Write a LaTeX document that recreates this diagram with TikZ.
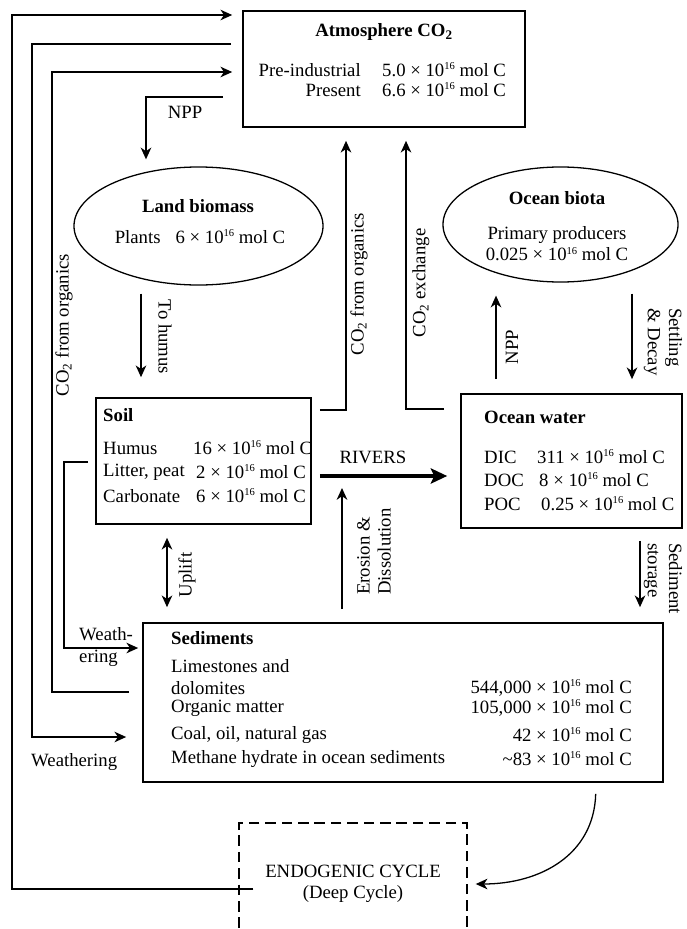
\documentclass[tikz,border=0pt]{standalone}
\usepackage{fontspec}
\setmainfont{Liberation Serif}
\usetikzlibrary{arrows.meta, shapes.geometric, calc, positioning}
\newcommand{\molc}[1]{#1 × 10\raisebox{0.8ex}{\fontsize{9}{9}\selectfont 16} mol C}

\tikzset{
    box/.style={draw, line width=1.4pt, inner sep=0pt},
    oval/.style={draw, ellipse, line width=1.1pt, inner sep=0pt},
    dashbox/.style={draw, line width=1.2pt, dash pattern=on 9pt off 5pt, inner sep=0pt, align=center},
    lbl/.style={inner sep=0pt},
    flow/.style={line width=1.4pt, -{Stealth[length=10pt, width=9pt, inset=3pt]}},
    twoflow/.style={line width=1.4pt, {Stealth[length=10pt, width=9pt, inset=3pt]}-{Stealth[length=10pt, width=9pt, inset=3pt]}},
    bigflow/.style={line width=3.6pt, -{Stealth[length=14pt, width=13pt, inset=3pt]}},
    wire/.style={line width=1.4pt},
}

\begin{document}
\begin{tikzpicture}[x=0.03cm, y=-0.03cm, font=\fontsize{16}{18}\selectfont]
\useasboundingbox (0,0) rectangle (686,929);

% reservoirs
\node[box, minimum width=8.46cm, minimum height=3.48cm] (atm) at (384,69) {};
\node[oval, minimum width=7.47cm, minimum height=3.54cm] (land) at (198.5,226) {};
\node[oval, minimum width=7.05cm, minimum height=3.45cm] (biota) at (560.5,224.5) {};
\node[box, minimum width=6.45cm, minimum height=3.78cm] (soil) at (203.5,461) {};
\node[box, minimum width=6.63cm, minimum height=4.02cm] (ocean) at (571.5,461) {};
\node[box, minimum width=15.6cm, minimum height=4.77cm] (sed) at (403,702.5) {};
\node[dashbox, minimum width=6.84cm, minimum height=3.66cm] (endo) at (353,884) {ENDOGENIC CYCLE\\(Deep Cycle)};

% atmosphere
\node[lbl] (atmT) at (384,32) {\bfseries Atmosphere CO\textsubscript{2}};
\node[lbl, anchor=east] (atmA) at (361,70) {Pre-industrial};
\node[lbl, anchor=west] (atmAv) at (382,70) {\molc{5.0}};
\node[lbl, anchor=east] (atmB) at (361,90) {Present};
\node[lbl, anchor=west] (atmBv) at (382,90) {\molc{6.6}};

% land biomass
\node[lbl] (landT) at (198,206) {\bfseries Land biomass};
\node[lbl] (landP) at (200,237) {Plants\hspace{0.8em}\molc{6}};

% ocean biota
\node[lbl] (biotaT) at (557,198) {\bfseries Ocean biota};
\node[lbl, align=center] (biotaP) at (557,244) {Primary producers\\\molc{0.025}};

% soil
\node[lbl, anchor=west] (soilT) at (103,415) {\bfseries Soil};
\node[lbl, anchor=west] (soilA) at (103,448) {Humus};
\node[lbl, anchor=west] (soilAv) at (193,448) {\molc{16}};
\node[lbl, anchor=west] (soilB) at (103,472) {Litter, peat};
\node[lbl, anchor=west] (soilBv) at (196,472) {\molc{2}};
\node[lbl, anchor=west] (soilC) at (103,496) {Carbonate};
\node[lbl, anchor=west] (soilCv) at (196,496) {\molc{6}};

% ocean water
\node[lbl, anchor=west] (oceanT) at (484,417) {\bfseries Ocean water};
\node[lbl, anchor=west] (oceanA) at (484,457) {DIC};
\node[lbl, anchor=west] (oceanAv) at (537,457) {\molc{311}};
\node[lbl, anchor=west] (oceanB) at (484,480) {DOC};
\node[lbl, anchor=west] (oceanBv) at (539,480) {\molc{8}};
\node[lbl, anchor=west] (oceanC) at (484,504) {POC};
\node[lbl, anchor=west] (oceanCv) at (541,504) {\molc{0.25}};

% sediments
\node[lbl, anchor=west] (sedT) at (171,638) {\bfseries Sediments};
\node[lbl, anchor=west] (sedA) at (171,666) {Limestones and};
\node[lbl, anchor=west] (sedA2) at (171,688) {dolomites};
\node[lbl, anchor=east] (sedAv) at (632,688) {\molc{544,000}};
\node[lbl, anchor=west] (sedB) at (171,708) {Organic matter};
\node[lbl, anchor=east] (sedBv) at (632,708) {\molc{105,000}};
\node[lbl, anchor=west] (sedC) at (171,735) {Coal, oil, natural gas};
\node[lbl, anchor=east] (sedCv) at (632,735) {\molc{42}};
\node[lbl, anchor=west] (sedD) at (171,759) {Methane hydrate in ocean sediments};
\node[lbl, anchor=east] (sedDv) at (632,759) {\molc{\textasciitilde 83}};

% flux labels
\node[lbl] (nppL) at (185,112) {NPP};
\node[lbl, rotate=90] (orgL) at (64,325) {CO\textsubscript{2} from organics};
\node[lbl, rotate=-90] (humL) at (165,337) {To humus};
\node[lbl, rotate=90] (orgM) at (359,284) {CO\textsubscript{2} from organics};
\node[lbl, rotate=90] (exL) at (421,283) {CO\textsubscript{2} exchange};
\node[lbl] (rivL) at (373,457) {RIVERS};
\node[lbl, rotate=90, anchor=west, align=left] (eroL) at (374,595) {Erosion \&\\Dissolution};
\node[lbl, rotate=90] (upL) at (187,575) {Uplift};
\node[lbl, rotate=90] (nppO) at (512,347) {NPP};
\node[lbl, rotate=-90, anchor=west, align=left] (setL) at (663,308) {Settling\\\& Decay};
\node[lbl, rotate=-90, anchor=west, align=left] (stoL) at (663,543) {Sediment\\storage};
\node[lbl, anchor=west, align=left] (weaL) at (79,647) {Weath-\\ering};
\node[lbl, anchor=west] (weaB) at (31,762) {Weathering};

\coordinate (endoOut) at ($(endo.west)+(15,5)$);
\coordinate (eroTip) at (342,488);

% fluxes
\draw[flow, shorten >=0.3cm] (endoOut) -| (12,15) -- (atm.west |- 0,15);
\draw[flow, shorten <=0.33cm, shorten >=0.48cm] (atm.west |- 0,44) -| (32,737) -- (sed.west |- 0,737);
\draw[flow, shorten <=0.39cm, shorten >=0.3cm] (sed.west |- 0,692) -| (52,72) -- (atm.west |- 0,72);
\draw[flow, shorten <=0.21cm, shorten >=0.12cm] (soil.west |- 0,462) -| (64,648) -- (sed.west |- 0,648);
\draw[flow, shorten <=0.57cm, shorten >=0.21cm] (atm.west |- 0,97) -| (146,0 |- land.north);
\draw[flow, shorten <=0.24cm, shorten >=0.6cm] (141,0 |- land.south) -- (141,0 |- soil.north);
\draw[flow, shorten <=0.24cm, shorten >=0.39cm] (soil.east |- 0,410) -| (346,0 |- atm.south);
\draw[flow, shorten <=0.48cm, shorten >=0.39cm] (ocean.west |- 0,409) -| (406,0 |- atm.south);
\draw[bigflow, shorten <=0.24cm, shorten >=0.39cm] (soil.east |- 0,476) -- (ocean.west |- 0,476);
\draw[flow, shorten <=0.39cm] (342,0 |- sed.north) -- (eroTip);
\draw[twoflow, shorten <=0.45cm, shorten >=0.39cm] (167,0 |- sed.north) -- (167,0 |- soil.south);
\draw[flow, shorten <=0.42cm, shorten >=0.39cm] (496,0 |- ocean.north) -- (496,0 |- biota.south);
\draw[flow, shorten <=0.33cm, shorten >=0.42cm] (632,0 |- biota.south) -- (632,0 |- ocean.north);
\draw[flow, shorten <=0.36cm, shorten >=0.45cm] (640,0 |- ocean.south) -- (640,0 |- sed.north);
\draw[flow, line width=1.1pt, shorten <=0.33cm, shorten >=0.24cm] (596,0 |- sed.south) .. controls (594,855) and (540,884) .. (endo.east);
\end{tikzpicture}
\end{document}
